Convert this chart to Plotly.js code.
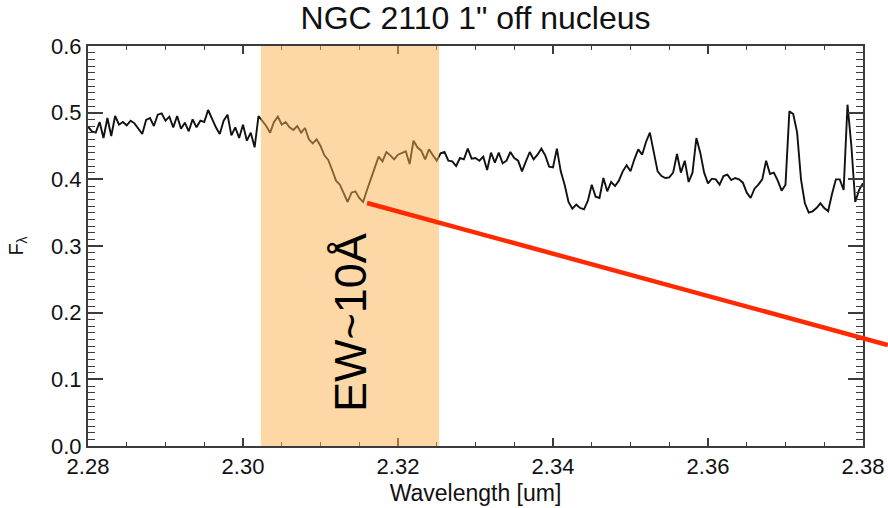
<!DOCTYPE html>
<html>
<head>
<meta charset="utf-8">
<script src="https://cdn.plot.ly/plotly-3.0.1.min.js"></script>
<style>html,body{margin:0;padding:0;background:#fff;}#chart{width:888px;height:508px;}</style>
</head>
<body>
<div id="chart"></div>
<script>
// Wavelength grid [um]
const wavelength = [
2.2800,2.2805,2.2810,2.2815,2.2820,2.2825,2.2830,2.2835,2.2840,2.2845,2.2850,2.2855,2.2860,2.2865,2.2870,2.2875,2.2880,2.2885,2.2890,2.2895,
2.2900,2.2905,2.2910,2.2915,2.2920,2.2925,2.2930,2.2935,2.2940,2.2945,2.2950,2.2955,2.2960,2.2965,2.2970,2.2975,2.2980,2.2985,2.2990,2.2995,
2.3000,2.3005,2.3010,2.3015,2.3020,2.3025,2.3030,2.3035,2.3040,2.3045,2.3050,2.3055,2.3060,2.3065,2.3070,2.3075,2.3080,2.3085,2.3090,2.3095,
2.3100,2.3105,2.3110,2.3115,2.3120,2.3125,2.3130,2.3135,2.3140,2.3145,2.3150,2.3155,2.3160,2.3165,2.3170,2.3175,2.3180,2.3185,2.3190,2.3195,
2.3200,2.3205,2.3210,2.3215,2.3220,2.3225,2.3230,2.3235,2.3240,2.3245,2.3250,2.3255,2.3260,2.3265,2.3270,2.3275,2.3280,2.3285,2.3290,2.3295,
2.3300,2.3305,2.3310,2.3315,2.3320,2.3325,2.3330,2.3335,2.3340,2.3345,2.3350,2.3355,2.3360,2.3365,2.3370,2.3375,2.3380,2.3385,2.3390,2.3395,
2.3400,2.3405,2.3410,2.3415,2.3420,2.3425,2.3430,2.3435,2.3440,2.3445,2.3450,2.3455,2.3460,2.3465,2.3470,2.3475,2.3480,2.3485,2.3490,2.3495,
2.3500,2.3505,2.3510,2.3515,2.3520,2.3525,2.3530,2.3535,2.3540,2.3545,2.3550,2.3555,2.3560,2.3565,2.3570,2.3575,2.3580,2.3585,2.3590,2.3595,
2.3600,2.3605,2.3610,2.3615,2.3620,2.3625,2.3630,2.3635,2.3640,2.3645,2.3650,2.3655,2.3660,2.3665,2.3670,2.3675,2.3680,2.3685,2.3690,2.3695,
2.3700,2.3705,2.3710,2.3715,2.3720,2.3725,2.3730,2.3735,2.3740,2.3745,2.3750,2.3755,2.3760,2.3765,2.3770,2.3775,2.3780,2.3785,2.3790,2.3795,
2.3800
];
// Flux F_lambda
const flux = [
0.479,0.472,0.470,0.486,0.462,0.492,0.465,0.495,0.482,0.486,0.481,0.488,0.484,0.476,0.468,0.489,0.492,0.480,0.497,0.499,
0.488,0.494,0.478,0.495,0.476,0.485,0.472,0.490,0.478,0.488,0.486,0.504,0.490,0.478,0.468,0.488,0.497,0.466,0.478,0.462,
0.482,0.458,0.470,0.448,0.495,0.487,0.480,0.470,0.486,0.494,0.482,0.486,0.478,0.474,0.480,0.470,0.477,0.460,0.454,0.460,
0.450,0.436,0.429,0.414,0.398,0.392,0.378,0.366,0.380,0.382,0.372,0.366,0.384,0.400,0.418,0.434,0.427,0.441,0.436,0.430,
0.437,0.439,0.442,0.423,0.458,0.448,0.443,0.430,0.445,0.436,0.428,0.439,0.441,0.428,0.427,0.420,0.432,0.430,0.446,0.431,
0.432,0.428,0.434,0.414,0.440,0.425,0.440,0.424,0.428,0.441,0.432,0.428,0.412,0.427,0.441,0.430,0.437,0.446,0.436,0.419,
0.418,0.446,0.412,0.392,0.366,0.356,0.362,0.357,0.355,0.368,0.392,0.374,0.372,0.402,0.382,0.396,0.390,0.398,0.412,0.421,
0.412,0.430,0.445,0.437,0.456,0.470,0.440,0.412,0.405,0.402,0.403,0.410,0.438,0.410,0.428,0.396,0.410,0.462,0.440,0.410,
0.394,0.401,0.400,0.392,0.405,0.407,0.399,0.402,0.400,0.395,0.380,0.372,0.386,0.392,0.400,0.428,0.408,0.410,0.398,0.383,
0.392,0.502,0.498,0.470,0.400,0.364,0.350,0.352,0.357,0.364,0.357,0.352,0.378,0.400,0.400,0.384,0.512,0.450,0.366,0.384,
0.394
];
// Shaded CO band window [um]
const bandWindow = [2.3023, 2.3253];
// Pointer line: from band minimum to outside the frame (data units)
const pointerStart = [2.3160, 0.3645];
const pointerEnd = [2.3832, 0.1515];
// Label
const ewLabel = 'EW~10Å';
const ewLabelPos = [2.3138, 0.186];
// Tick steps
const xTickStep = 0.02, xMinorStep = 0.005;
const yTickStep = 0.1, yMinorStep = 0.01;

const xRange = [2.28, 2.38];
const yRange = [0, 0.6];
const toPx = (v, r) => (v - r[0]) / (r[1] - r[0]);

const FONT = 'Liberation Sans, Arial, Helvetica, sans-serif';
const AX = '#3c3c3c';
const NOGRID = 'rgba(255,255,255,0)';

const trace = {
  x: wavelength, y: flux, type: 'scatter', mode: 'lines',
  line: {color: '#111', width: 1.9}, hoverinfo: 'x+y'
};

const layout = {
  width: 888, height: 508,
  margin: {l: 88, r: 25, t: 46, b: 62},
  paper_bgcolor: '#fff', plot_bgcolor: '#fff',
  showlegend: false,
  font: {family: FONT, color: '#000', size: 22},
  title: {text: 'NGC 2110 1" off nucleus', font: {family: FONT, size: 32, color: '#111'},
          x: 0.5, xref: 'paper', xanchor: 'center', y: 1 - 18/508, yref: 'container', yanchor: 'middle'},
  xaxis: {
    range: xRange, dtick: xTickStep, tickformat: '.2f',
    ticks: 'inside', ticklen: 8, tickwidth: 2, tickcolor: AX,
    minor: {dtick: xMinorStep, ticks: 'inside', ticklen: 4, tickwidth: 1, tickcolor: AX, showgrid: true, gridcolor: NOGRID},
    showline: true, linecolor: AX, linewidth: 2, mirror: 'allticks',
    showgrid: true, gridcolor: NOGRID, zeroline: false,
    tickfont: {family: FONT, size: 22, color: '#111'},
    title: {text: 'Wavelength [um]', font: {family: FONT, size: 23, color: '#111'}, standoff: 6},
    automargin: false
  },
  yaxis: {
    range: yRange, dtick: yTickStep, tickformat: '.1f',
    ticks: 'inside', ticklen: 15, tickwidth: 2, tickcolor: AX,
    minor: {dtick: yMinorStep, ticks: 'inside', ticklen: 7, tickwidth: 1, tickcolor: AX, showgrid: true, gridcolor: NOGRID},
    showline: true, linecolor: AX, linewidth: 2, mirror: 'allticks',
    showgrid: true, gridcolor: NOGRID, zeroline: false,
    tickfont: {family: FONT, size: 22, color: '#111'},
    title: {text: 'F<sub>λ</sub>', font: {family: FONT, size: 20, color: '#111'}, standoff: 22},
    automargin: false
  },
  shapes: [
    {type: 'rect', xref: 'x', yref: 'paper', x0: bandWindow[0], x1: bandWindow[1], y0: 0, y1: 1,
     fillcolor: 'rgb(251,177,77)', opacity: 0.5, line: {width: 0}, layer: 'above'},
    {type: 'line', xref: 'paper', yref: 'paper',
     x0: toPx(pointerStart[0], xRange), y0: toPx(pointerStart[1], yRange),
     x1: toPx(pointerEnd[0], xRange), y1: toPx(pointerEnd[1], yRange),
     line: {color: '#ff2a00', width: 4.5}, layer: 'above'}
  ],
  annotations: [
    {text: ewLabel, x: ewLabelPos[0], y: ewLabelPos[1], xref: 'x', yref: 'y', showarrow: false,
     textangle: -90, font: {family: FONT, size: 45, color: '#000'}, xanchor: 'center', yanchor: 'middle'}
  ]
};

Plotly.newPlot('chart', [trace], layout, {displayModeBar: false, staticPlot: true});
</script>
</body>
</html>
